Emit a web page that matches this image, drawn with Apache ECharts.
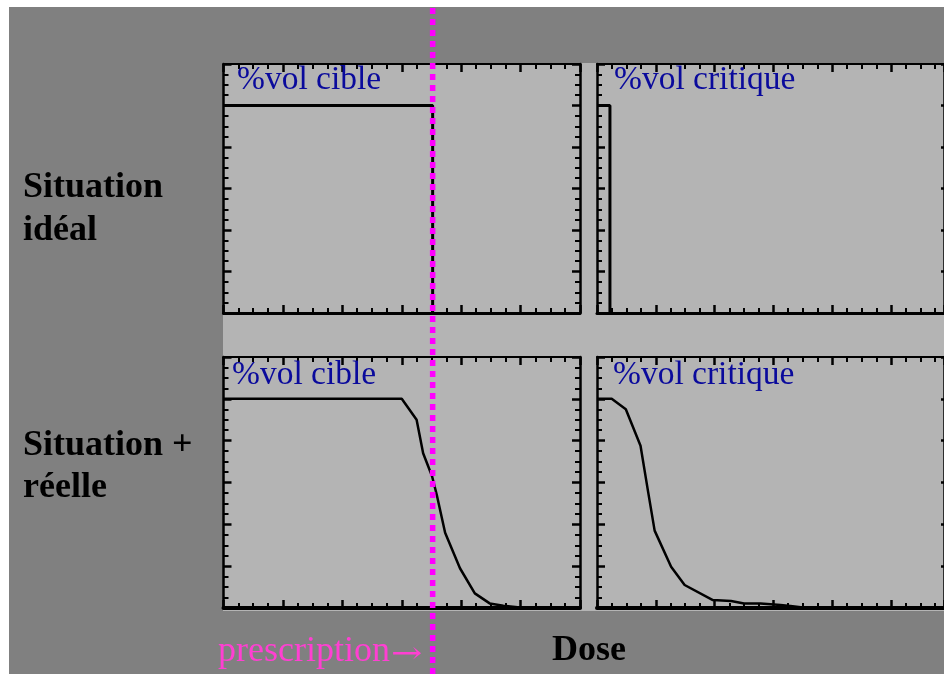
<!DOCTYPE html>
<html>
<head>
<meta charset="utf-8">
<script src="https://cdn.jsdelivr.net/npm/echarts@6/dist/echarts.min.js"></script>
<style>
  html, body { margin: 0; padding: 0; background: #fff; }
  #chart { width: 944px; height: 674px; }
</style>
</head>
<body>
<div id="chart"></div>
<script>
// Dose-volume histograms: ideal vs. real situation, target (cible) and organ at risk (critique)
const prescriptionDose = 3.52;

// Ideal situation
const cibleIdeal = [[0, 100], [3.52, 100], [3.52, 0]];
const critiqueIdeal = [[0, 100], [0.22, 100], [0.22, 0]];

// Real situation
const cibleReelle = [
  [0, 100], [3.00, 100], [3.25, 90], [3.36, 74], [3.51, 63], [3.59, 54],
  [3.73, 36], [3.98, 19], [4.23, 7], [4.48, 2.2], [4.71, 1.1], [4.99, 0.3], [5.3, 0]
];
const critiqueReelle = [
  [0, 100], [0.25, 100], [0.49, 95], [0.74, 77.6], [0.87, 55.4], [0.98, 37],
  [1.26, 19.7], [1.49, 11], [1.97, 3.8], [2.28, 3.3], [2.50, 2.2], [2.78, 2.2],
  [3.12, 1.4], [3.29, 1.0], [3.5, 0.3], [3.8, 0]
];

const panelTitles = ['%vol cible', '%vol critique'];
const rowLabels = [['Situation', 'idéal'], ['Situation +', 'réelle']];
const doseLabel = 'Dose';
const prescriptionLabel = 'prescription';
const arrowLabel = '\u2192';

const SERIF = '"Liberation Serif", "Times New Roman", serif';

// panel geometry: [left, top, width, height, xMax]
const panels = [
  [223.5, 64, 356.5, 249, 6],
  [597, 64, 349, 249, 5.9],
  [223.5, 357, 356.5, 251, 6],
  [597, 357, 349, 251, 5.9]
];

function xAxisFor(g, pos, max) {
  const bottomWidth = g >= 2 ? 4 : 3;
  return {
    type: 'value', gridIndex: g, position: pos, min: 0, max: max, interval: 1,
    axisLine: { show: true, onZero: false, lineStyle: { color: '#000', width: pos === 'bottom' ? bottomWidth : 2 } },
    axisTick: { show: true, inside: true, length: 8, lineStyle: { color: '#000', width: 2.5 } },
    minorTick: { show: true, splitNumber: 4, length: 5, lineStyle: { color: '#000', width: 2 } },
    axisLabel: { show: false }, splitLine: { show: false }, minorSplitLine: { show: false }
  };
}
function yAxisFor(g, pos, withMinor) {
  return {
    type: 'value', gridIndex: g, position: pos, min: 0, max: 120, interval: 20,
    axisLine: { show: true, onZero: false, lineStyle: { color: '#000', width: 2.5 } },
    axisTick: { show: true, inside: true, length: withMinor ? 8 : 3, lineStyle: { color: '#000', width: 2.5 } },
    minorTick: { show: withMinor, splitNumber: 4, length: 5, lineStyle: { color: '#000', width: 2 } },
    axisLabel: { show: false }, splitLine: { show: false }, minorSplitLine: { show: false }
  };
}

const grids = [], xAxes = [], yAxes = [];
panels.forEach((p, g) => {
  grids.push({ left: p[0], top: p[1], width: p[2], height: p[3], containLabel: false });
  xAxes.push(xAxisFor(g, 'bottom', p[4]));
  xAxes.push(xAxisFor(g, 'top', p[4]));
  yAxes.push(yAxisFor(g, 'left', true));
  yAxes.push(yAxisFor(g, 'right', g % 2 === 0));
});

const seriesData = [cibleIdeal, critiqueIdeal, cibleReelle, critiqueReelle];
const series = seriesData.map((d, g) => ({
  type: 'line', xAxisIndex: g * 2, yAxisIndex: g * 2, data: d,
  showSymbol: false, symbol: 'none', smooth: false,
  lineStyle: { color: '#000', width: g < 2 ? 3 : 2.5 }, z: 5
}));

const textStyleBold = (t, x, y) => ({
  type: 'text', z: 50, silent: true,
  style: { text: t, x: x, y: y, fill: '#000', font: 'bold 36px ' + SERIF, verticalAlign: 'middle', align: 'left' }
});
const titleText = (t, x, y) => ({
  type: 'text', z: 50, silent: true,
  style: { text: t, x: x, y: y, fill: '#0a0a9c', font: '33.5px ' + SERIF, verticalAlign: 'middle', align: 'left' }
});

const graphics = [
  { type: 'rect', id: 'bgDark', z: -100, silent: true, shape: { x: 9, y: 7, width: 935, height: 667 }, style: { fill: '#808080' } },
  { type: 'rect', id: 'bgLight', z: -90, silent: true, shape: { x: 223, y: 63, width: 721, height: 548 }, style: { fill: '#b4b4b4' } },
  titleText(panelTitles[0], 237, 80),
  titleText(panelTitles[1], 614, 80),
  titleText(panelTitles[0], 232, 375),
  titleText(panelTitles[1], 613, 375),
  textStyleBold(rowLabels[0][0], 23, 188),
  textStyleBold(rowLabels[0][1], 23, 231),
  textStyleBold(rowLabels[1][0], 23, 446),
  textStyleBold(rowLabels[1][1], 23, 488),
  textStyleBold(doseLabel, 552, 651),
  {
    type: 'text', z: 50, silent: true,
    style: { text: prescriptionLabel, x: 218, y: 652, fill: '#ff3fd2', font: '36px ' + SERIF, verticalAlign: 'middle', align: 'left' }
  },
  {
    type: 'text', z: 50, silent: true, x: 391, y: 655, scaleX: 1.25,
    style: { text: arrowLabel, x: 0, y: 0, fill: '#ff3fd2', font: '30px "DejaVu Serif", serif', verticalAlign: 'middle', align: 'left' }
  }
];

const chart = echarts.init(document.getElementById('chart'), null, { renderer: 'canvas' });
chart.setOption({
  animation: false,
  backgroundColor: '#ffffff',
  grid: grids,
  xAxis: xAxes,
  yAxis: yAxes,
  series: series,
  graphic: graphics
});

// prescription dose marker, positioned through the dose axis
const px = chart.convertToPixel({ xAxisIndex: 0 }, prescriptionDose);
chart.setOption({
  graphic: [{
    type: 'line', id: 'prescription', z: 100, silent: true,
    shape: { x1: px, y1: 8, x2: px, y2: 674 },
    style: { stroke: '#ff00ff', lineWidth: 5.5, lineDash: [6, 5], lineCap: 'butt' }
  }]
});
</script>
</body>
</html>
